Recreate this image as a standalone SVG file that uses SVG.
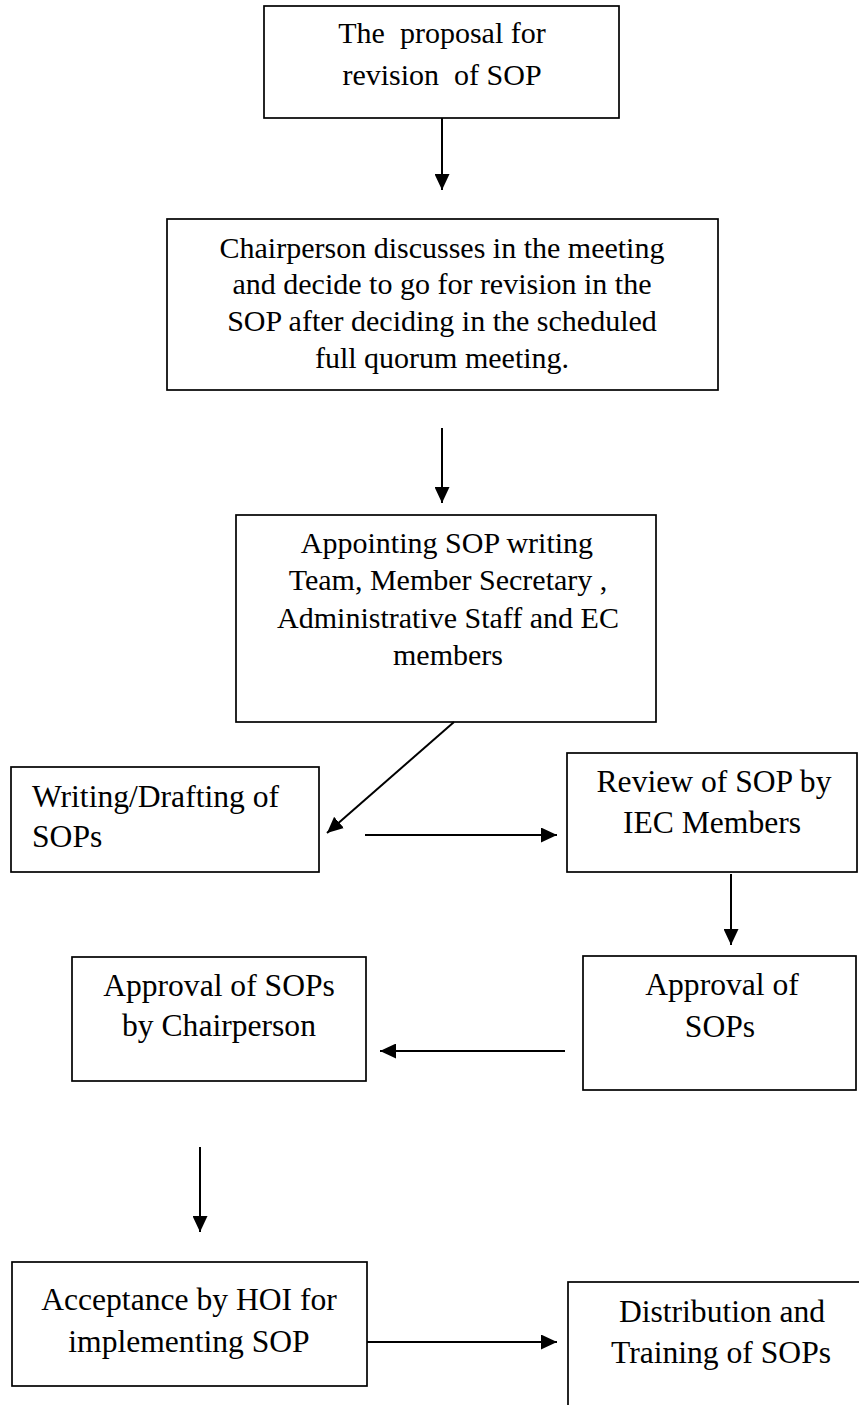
<svg xmlns="http://www.w3.org/2000/svg" width="859" height="1405" viewBox="0 0 859 1405">
<style>
.box{fill:#fff;stroke:#000;stroke-width:1.7}
.t{font-family:"Liberation Serif","Times New Roman",serif;font-size:30px;fill:#000;text-anchor:middle}
.t2{font-family:"Liberation Serif","Times New Roman",serif;font-size:31.6px;fill:#000;text-anchor:middle}
.c{stroke:#000;stroke-width:2;fill:none;marker-end:url(#ah)}
</style>
<defs>
<marker id="ah" markerUnits="userSpaceOnUse" markerWidth="16" markerHeight="15" refX="16" refY="7.5" orient="auto">
<path d="M0,0 L16,7.5 L0,15 z" fill="#000"/>
</marker>
</defs>
<rect width="859" height="1405" fill="#fff"/>
<g id="n1">
<rect class="box" x="264" y="6" width="355" height="112"/>
<text class="t" x="442" y="43" xml:space="preserve">The  proposal for</text>
<text class="t" x="442" y="85" xml:space="preserve">revision  of SOP</text>
</g>
<g id="n2">
<rect class="box" x="167" y="219" width="551" height="171"/>
<text class="t" x="442" y="258">Chairperson discusses in the meeting</text>
<text class="t" x="442" y="294">and decide to go for revision in the</text>
<text class="t" x="442" y="331">SOP after deciding in the scheduled</text>
<text class="t" x="442" y="368">full quorum meeting.</text>
</g>
<g id="n3">
<rect class="box" x="236" y="515" width="420" height="207"/>
<text class="t" x="447" y="553">Appointing SOP writing</text>
<text class="t" x="448" y="590">Team, Member Secretary ,</text>
<text class="t" x="448" y="628">Administrative Staff and EC</text>
<text class="t" x="448" y="665">members</text>
</g>
<g id="n4">
<rect class="box" x="11" y="767" width="308" height="105"/>
<text class="t2" x="32" y="807" style="text-anchor:start">Writing/Drafting of</text>
<text class="t2" x="32" y="847" style="text-anchor:start">SOPs</text>
</g>
<g id="n5">
<rect class="box" x="567" y="753" width="290" height="119"/>
<text class="t2" x="714" y="792">Review of SOP by</text>
<text class="t2" x="712" y="833">IEC Members</text>
</g>
<g id="n6">
<rect class="box" x="583" y="956" width="273" height="134"/>
<text class="t2" x="722" y="995">Approval of</text>
<text class="t2" x="720" y="1037">SOPs</text>
</g>
<g id="n7">
<rect class="box" x="72" y="957" width="294" height="124"/>
<text class="t2" x="219" y="996">Approval of SOPs</text>
<text class="t2" x="219" y="1036">by Chairperson</text>
</g>
<g id="n8">
<rect class="box" x="12" y="1262" width="355" height="124"/>
<text class="t2" x="189" y="1310">Acceptance by HOI for</text>
<text class="t2" x="189" y="1352">implementing SOP</text>
</g>
<g id="n9">
<rect class="box" x="568" y="1282" width="320" height="140"/>
<text class="t2" x="722" y="1322">Distribution and</text>
<text class="t2" x="721" y="1363">Training of SOPs</text>
</g>
<g id="connectors">
<line class="c" x1="442" y1="118" x2="442" y2="190"/>
<line class="c" x1="442" y1="428" x2="442" y2="503"/>
<line class="c" x1="454" y1="722" x2="327" y2="833"/>
<line class="c" x1="365" y1="835" x2="557" y2="835"/>
<line class="c" x1="731" y1="874" x2="731" y2="945"/>
<line class="c" x1="565" y1="1051" x2="380" y2="1051"/>
<line class="c" x1="200" y1="1147" x2="200" y2="1232"/>
<line class="c" x1="367" y1="1342" x2="557" y2="1342"/>
</g>
</svg>
